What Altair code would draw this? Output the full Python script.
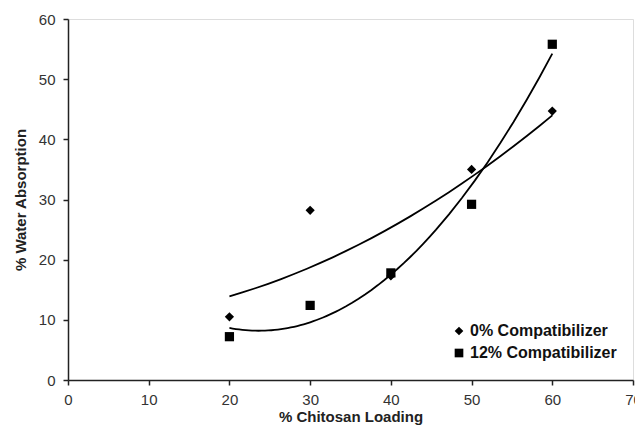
import altair as alt
import pandas as pd

loading = [20, 30, 40, 50, 60]
absorb_0 = [10.5, 28.2, 17.3, 35.0, 44.7]
absorb_12 = [7.2, 12.4, 17.8, 29.2, 55.8]
series_names = ["0% Compatibilizer", "12% Compatibilizer"]

rows = []
for x, y in zip(loading, absorb_0):
    rows.append({"x": x, "y": y, "series": series_names[0]})
for x, y in zip(loading, absorb_12):
    rows.append({"x": x, "y": y, "series": series_names[1]})
df = pd.DataFrame(rows)

xscale = alt.Scale(domain=[0, 70], nice=False, zero=False)
yscale = alt.Scale(domain=[0, 60], nice=False, zero=False)

xaxis = alt.Axis(values=list(range(0, 71, 10)), title="% Chitosan Loading", grid=False,
                 domainColor="#222222", domainWidth=1.5, tickColor="#222222", tickWidth=1.5,
                 tickSize=5, labelPadding=7, labelFontSize=15, labelColor="#333333",
                 labelFont="Arial", titleFont="Arial", titleFontSize=15, titleFontWeight="bold",
                 titleColor="#222222", titlePadding=2, labelFlush=False)
yaxis = alt.Axis(values=list(range(0, 61, 10)), title="% Water Absorption", grid=False,
                 domainColor="#222222", domainWidth=1.5, tickColor="#222222", tickWidth=1.5,
                 tickSize=5, labelPadding=8, labelFontSize=15, labelColor="#333333",
                 labelFont="Arial", titleFont="Arial", titleFontSize=15, titleFontWeight="bold",
                 titleColor="#222222", titlePadding=10)

base = alt.Chart(df)

points = base.mark_point(filled=True, opacity=1, color="black").encode(
    x=alt.X("x:Q", scale=xscale, axis=xaxis),
    y=alt.Y("y:Q", scale=yscale, axis=yaxis),
    shape=alt.Shape("series:N",
                    scale=alt.Scale(domain=series_names, range=["diamond", "square"]),
                    legend=alt.Legend(title=None, orient="none", legendX=383, legendY=304,
                                      labelFont="Arial", labelFontSize=16, labelFontWeight="bold",
                                      labelColor="#111111", symbolSize=75, symbolFillColor="black",
                                      symbolStrokeColor="black", symbolType="square",
                                      rowPadding=6, labelOffset=3)),
    size=alt.value(85),
)

trend = base.transform_regression(
    "x", "y", groupby=["series"], method="poly", order=2, extent=[20, 60]
).mark_line(color="black", strokeWidth=1.8).encode(
    x=alt.X("x:Q", scale=xscale),
    y=alt.Y("y:Q", scale=yscale),
    detail="series:N",
)

chart = alt.layer(trend, points).properties(
    width=565, height=361,
    autosize=alt.AutoSizeParams(type="none"),
    padding={"left": 60, "top": 11, "right": 2, "bottom": 45},
).configure_view(stroke="#a0a0a0", strokeWidth=1.5).configure(background="white")

chart.save("out.html", embed_options={"renderer": "svg", "actions": False})
